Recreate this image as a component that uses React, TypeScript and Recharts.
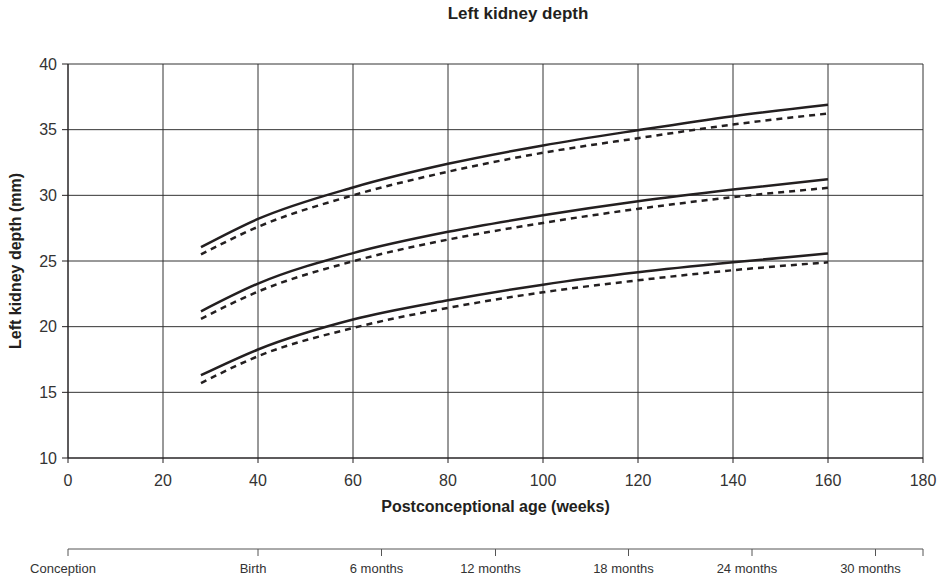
import { LineChart, Line, XAxis, YAxis, CartesianGrid } from 'recharts';

// postconceptional age (weeks) at which the curves were read
const weeks = [28, 40, 60, 80, 100, 120, 140, 160];

// left kidney depth (mm), solid and dashed curve pairs
const upperSolid = [26.05, 28.2, 30.6, 32.4, 33.8, 34.96, 36.03, 36.9];
const upperDashed = [25.5, 27.6, 30.0, 31.8, 33.24, 34.35, 35.39, 36.23];
const middleSolid = [21.17, 23.28, 25.6, 27.22, 28.48, 29.55, 30.44, 31.23];
const middleDashed = [20.6, 22.67, 24.98, 26.63, 27.9, 28.97, 29.86, 30.57];
const lowerSolid = [16.3, 18.26, 20.54, 22.01, 23.2, 24.14, 24.9, 25.57];
const lowerDashed = [15.7, 17.75, 19.9, 21.43, 22.62, 23.53, 24.3, 24.9];

const weekTicks = [0, 20, 40, 60, 80, 100, 120, 140, 160, 180];
const depthTicks = [10, 15, 20, 25, 30, 35, 40];

// secondary age scale (in weeks since conception)
const ageWeeks = [0, 40, 66, 90, 118, 144, 170, 180];
const ageLabels = ['Conception', 'Birth', '6 months', '12 months', '18 months', '24 months', '30 months', ''];

const data = weeks.map((w, i) => ({
  week: w,
  upperSolid: upperSolid[i],
  upperDashed: upperDashed[i],
  middleSolid: middleSolid[i],
  middleDashed: middleDashed[i],
  lowerSolid: lowerSolid[i],
  lowerDashed: lowerDashed[i],
}));

const INK = '#231f20';
const FONT = "'Liberation Sans', Arial, sans-serif";
const NARROW = "'Liberation Sans Narrow', 'Arial Narrow', 'Liberation Sans', sans-serif";

const series = [
  { key: 'upperSolid', dash: undefined },
  { key: 'upperDashed', dash: '6 5' },
  { key: 'middleSolid', dash: undefined },
  { key: 'middleDashed', dash: '6 5' },
  { key: 'lowerSolid', dash: undefined },
  { key: 'lowerDashed', dash: '6 5' },
];

function AgeTick(props: any) {
  const { x, y, payload } = props;
  const idx = ageWeeks.indexOf(payload.value);
  return (
    <text
      x={x - 5}
      y={y}
      dy={15}
      textAnchor="middle"
      fontFamily={NARROW}
      fontSize={13}
      fill="#333"
    >
      {ageLabels[idx]}
    </text>
  );
}

export default function App() {
  return (
    <div style={{ position: 'absolute', left: 0, top: 0, width: 940, height: 583, background: '#fff' }}>
      <div
        style={{
          position: 'absolute',
          top: 4,
          left: 518,
          transform: 'translateX(-50%)',
          fontFamily: FONT,
          fontWeight: 'bold',
          fontSize: 17,
          lineHeight: '20px',
          color: INK,
          whiteSpace: 'nowrap',
        }}
      >
        Left kidney depth
      </div>
      <LineChart width={940} height={583} data={data} margin={{ top: 64, right: 17, bottom: 4, left: 0 }}>
        <CartesianGrid xAxisId="primary" stroke="#333" strokeWidth={1} horizontalValues={depthTicks} verticalValues={weekTicks} />
        <XAxis
          xAxisId="secondary"
          dataKey="week"
          type="number"
          domain={[0, 180]}
          ticks={ageWeeks}
          interval={0}
          height={30}
          tickSize={7}
          tickMargin={2}
          stroke="#555"
          tick={<AgeTick />}
        />
        <XAxis
          xAxisId="primary"
          dataKey="week"
          type="number"
          domain={[0, 180]}
          ticks={weekTicks}
          interval={0}
          height={91}
          tickSize={5}
          tickMargin={12}
          stroke={INK}
          tick={{ fill: '#333', fontFamily: FONT, fontSize: 16 }}
          label={{
            value: 'Postconceptional age (weeks)',
            position: 'insideTop',
            offset: 43,
            fill: INK,
            fontFamily: FONT,
            fontWeight: 'bold',
            fontSize: 16,
          }}
        />
        <YAxis
          type="number"
          domain={[10, 40]}
          ticks={depthTicks}
          interval={0}
          width={68}
          tickSize={6}
          tickMargin={5}
          stroke={INK}
          tick={{ fill: '#333', fontFamily: FONT, fontSize: 16 }}
          label={{
            value: 'Left kidney depth (mm)',
            angle: -90,
            position: 'insideLeft',
            offset: 15,
            fill: INK,
            fontFamily: FONT,
            fontWeight: 'bold',
            fontSize: 16,
            style: { textAnchor: 'middle' },
          }}
        />
        {series.map((s) => (
          <Line
            key={s.key}
            xAxisId="primary"
            dataKey={s.key}
            type="monotone"
            stroke={INK}
            strokeWidth={2.5}
            strokeDasharray={s.dash}
            dot={false}
            activeDot={false}
            isAnimationActive={false}
          />
        ))}
      </LineChart>
    </div>
  );
}
